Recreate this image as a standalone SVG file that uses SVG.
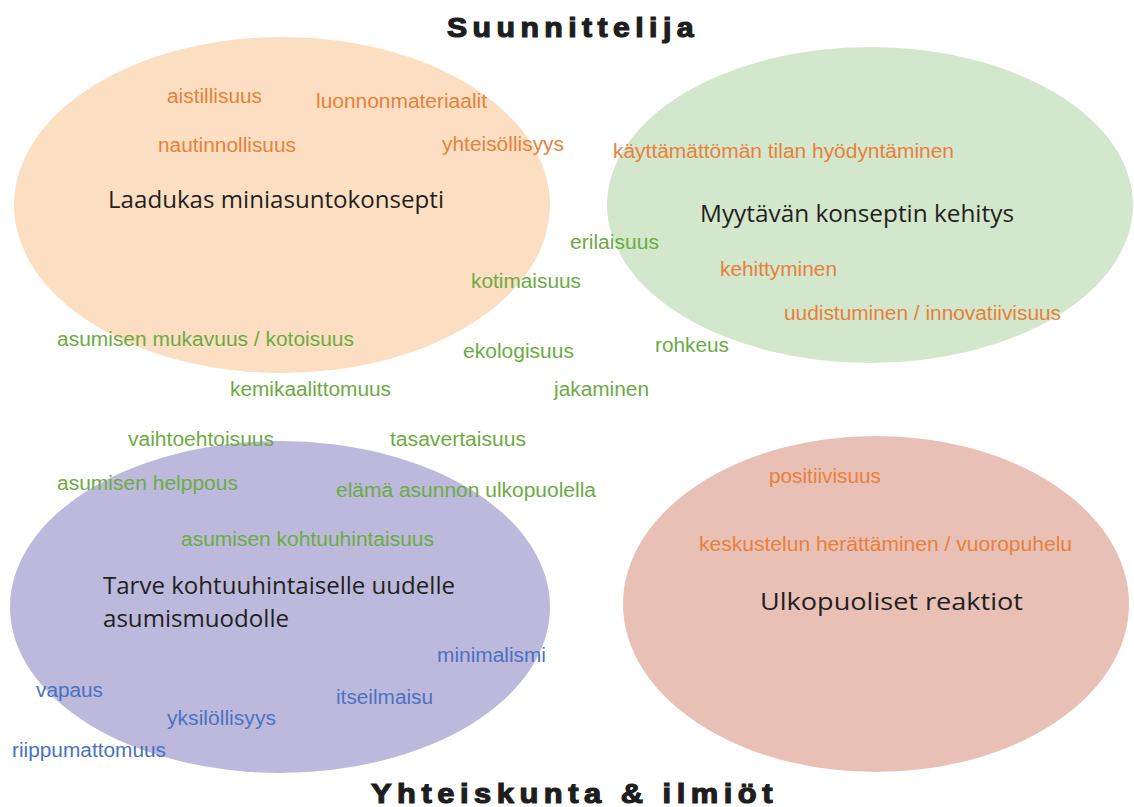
<svg xmlns="http://www.w3.org/2000/svg" width="1134" height="807" viewBox="0 0 1134 807">
<style>
.title{font-family:"Liberation Sans",Arial,sans-serif;font-weight:bold;font-size:28px;fill:#1e1e1e;stroke:#1e1e1e;stroke-width:1.2px;letter-spacing:5px}
.main{font-family:"Open Sans","Liberation Sans",sans-serif;font-size:23.5px;fill:#231f20}
.kw{font-family:"Liberation Sans",Arial,sans-serif;font-size:20px}
.o{fill:#e8803a}
.g{fill:#6cab43}
.b{fill:#4a72c1}
</style>
<rect width="1134" height="807" fill="#ffffff"/>
<g id="ellipses">
<ellipse id="e-laadukas" cx="282" cy="205" rx="268" ry="168" fill="#fcdfc2"/>
<ellipse id="e-myytava" cx="870" cy="205" rx="263" ry="158" fill="#d3e7cc"/>
<ellipse id="e-tarve" cx="280" cy="607" rx="270" ry="166" fill="#bcb9dc"/>
<ellipse id="e-ulkopuoliset" cx="876" cy="604" rx="253" ry="168" fill="#e9c0b6"/>
</g>
<g id="titles">
<text class="title" x="447" y="37" textLength="252" lengthAdjust="spacingAndGlyphs">Suunnittelija</text>
<text class="title" x="371" y="803" textLength="407" lengthAdjust="spacingAndGlyphs">Yhteiskunta &amp; ilmiöt</text>
</g>
<g id="node-laadukas">
<text class="main" x="108" y="208" textLength="336" lengthAdjust="spacingAndGlyphs">Laadukas miniasuntokonsepti</text>
<text class="kw o" x="167" y="103" textLength="95" lengthAdjust="spacingAndGlyphs">aistillisuus</text>
<text class="kw o" x="316" y="108" textLength="171" lengthAdjust="spacingAndGlyphs">luonnonmateriaalit</text>
<text class="kw o" x="158" y="152" textLength="138" lengthAdjust="spacingAndGlyphs">nautinnollisuus</text>
<text class="kw o" x="442" y="151" textLength="122" lengthAdjust="spacingAndGlyphs">yhteisöllisyys</text>
</g>
<g id="node-myytava">
<text class="main" x="700" y="222" textLength="314" lengthAdjust="spacingAndGlyphs">Myytävän konseptin kehitys</text>
<text class="kw o" x="613" y="158" textLength="341" lengthAdjust="spacingAndGlyphs">käyttämättömän tilan hyödyntäminen</text>
<text class="kw o" x="720" y="276" textLength="117" lengthAdjust="spacingAndGlyphs">kehittyminen</text>
<text class="kw o" x="784" y="320" textLength="277" lengthAdjust="spacingAndGlyphs">uudistuminen / innovatiivisuus</text>
</g>
<g id="shared-values">
<text class="kw g" x="570" y="249" textLength="89" lengthAdjust="spacingAndGlyphs">erilaisuus</text>
<text class="kw g" x="471" y="288" textLength="110" lengthAdjust="spacingAndGlyphs">kotimaisuus</text>
<text class="kw g" x="57" y="346" textLength="297" lengthAdjust="spacingAndGlyphs">asumisen mukavuus / kotoisuus</text>
<text class="kw g" x="463" y="358" textLength="111" lengthAdjust="spacingAndGlyphs">ekologisuus</text>
<text class="kw g" x="655" y="352" textLength="74" lengthAdjust="spacingAndGlyphs">rohkeus</text>
<text class="kw g" x="230" y="396" textLength="161" lengthAdjust="spacingAndGlyphs">kemikaalittomuus</text>
<text class="kw g" x="554" y="396" textLength="95" lengthAdjust="spacingAndGlyphs">jakaminen</text>
<text class="kw g" x="128" y="446" textLength="146" lengthAdjust="spacingAndGlyphs">vaihtoehtoisuus</text>
<text class="kw g" x="390" y="446" textLength="136" lengthAdjust="spacingAndGlyphs">tasavertaisuus</text>
<text class="kw g" x="57" y="490" textLength="181" lengthAdjust="spacingAndGlyphs">asumisen helppous</text>
<text class="kw g" x="336" y="497" textLength="260" lengthAdjust="spacingAndGlyphs">elämä asunnon ulkopuolella</text>
</g>
<g id="node-tarve">
<text class="kw g" x="181" y="546" textLength="253" lengthAdjust="spacingAndGlyphs">asumisen kohtuuhintaisuus</text>
<text class="main" x="103" y="594" textLength="352" lengthAdjust="spacingAndGlyphs">Tarve kohtuuhintaiselle uudelle</text>
<text class="main" x="103" y="627" textLength="186" lengthAdjust="spacingAndGlyphs">asumismuodolle</text>
<text class="kw b" x="437" y="662" textLength="109" lengthAdjust="spacingAndGlyphs">minimalismi</text>
<text class="kw b" x="36" y="697" textLength="67" lengthAdjust="spacingAndGlyphs">vapaus</text>
<text class="kw b" x="336" y="704" textLength="97" lengthAdjust="spacingAndGlyphs">itseilmaisu</text>
<text class="kw b" x="167" y="725" textLength="109" lengthAdjust="spacingAndGlyphs">yksilöllisyys</text>
<text class="kw b" x="12" y="757" textLength="154" lengthAdjust="spacingAndGlyphs">riippumattomuus</text>
</g>
<g id="node-ulkopuoliset">
<text class="kw o" x="769" y="483" textLength="112" lengthAdjust="spacingAndGlyphs">positiivisuus</text>
<text class="kw o" x="699" y="551" textLength="373" lengthAdjust="spacingAndGlyphs">keskustelun herättäminen / vuoropuhelu</text>
<text class="main" x="760" y="610" textLength="263" lengthAdjust="spacingAndGlyphs">Ulkopuoliset reaktiot</text>
</g>
</svg>
